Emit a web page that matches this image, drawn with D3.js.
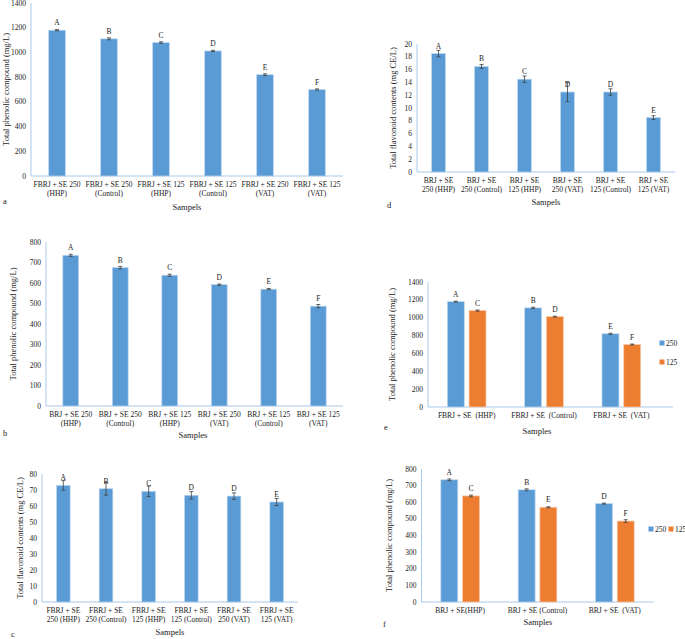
<!DOCTYPE html>
<html>
<head>
<meta charset="utf-8">
<script src="https://cdn.jsdelivr.net/npm/d3@7"></script>
<style>
  body { margin: 0; background: #fff; }
  text { font-family: "Liberation Serif", "Times New Roman", serif; fill: #222; }
</style>
</head>
<body>
<div id="d3-container"></div>
<script>
// data
const catsA = [["FBRJ + SE 250", "(HHP)"], ["FBRJ + SE 250", "(Control)"], ["FBRJ + SE 125", "(HHP)"],
               ["FBRJ + SE 125", "(Control)"], ["FBRJ + SE 250", "(VAT)"], ["FBRJ + SE 125", "(VAT)"]];
const valsA = [1180, 1110, 1080, 1012, 820, 700];
const errA = [5, 8, 6, 5, 7, 5];
const letA = ["A", "B", "C", "D", "E", "F"];

const catsB = [["BRJ + SE 250", "(HHP)"], ["BRJ + SE 250", "(Control)"], ["BRJ + SE 125", "(HHP)"],
               ["BRJ + SE 250", "(VAT)"], ["BRJ + SE 125", "(Control)"], ["BRJ + SE 125", "(VAT)"]];
const valsB = [735, 675, 638, 592, 570, 487];
const errB = [5, 6, 5, 3, 3, 8];
const letB = ["A", "B", "C", "D", "E", "F"];

const catsC = [["FBRJ + SE", "250 (HHP)"], ["FBRJ + SE", "250 (Control)"], ["FBRJ + SE", "125 (HHP)"],
               ["FBRJ + SE", "125 (Control)"], ["FBRJ + SE", "250 (VAT)"], ["FBRJ + SE", "125 (VAT)"]];
const valsC = [72.9, 70.8, 69.2, 66.7, 66.2, 62.5];
const errC = [3, 4, 3.3, 2.3, 2, 2.2];
const letC = ["A", "B", "C", "D", "D", "E"];

const catsD = [["BRJ + SE", "250 (HHP)"], ["BRJ + SE", "250 (Control)"], ["BRJ + SE", "125 (HHP)"],
               ["BRJ + SE", "250 (VAT)"], ["BRJ + SE", "125 (Control)"], ["BRJ + SE", "125 (VAT)"]];
const valsD = [18.5, 16.5, 14.5, 12.5, 12.5, 8.5];
const errD = [0.5, 0.3, 0.5, 1.5, 0.5, 0.3];
const letD = ["A", "B", "C", "D", "D", "E"];

const groupsE = ["FBRJ + SE  (HHP)", "FBRJ + SE  (Control)", "FBRJ + SE  (VAT)"];
const e250 = [1180, 1110, 820];
const e125 = [1080, 1012, 700];
const eErr250 = [5, 8, 7];
const eErr125 = [6, 5, 5];
const eLet250 = ["A", "B", "E"];
const eLet125 = ["C", "D", "F"];

const groupsF = ["BRJ + SE(HHP)", "BRJ + SE (Control)", "BRJ + SE  (VAT)"];
const f250 = [735, 675, 592];
const f125 = [638, 570, 487];
const fErr250 = [5, 6, 3];
const fErr125 = [5, 3, 8];
const fLet250 = ["A", "B", "D"];
const fLet125 = ["C", "E", "F"];

const series = ["250", "125"];

const blue = "#5b9bd5", orange = "#ed7d31";
const axisCol = "#a9c9ea", errCol = "#404040";

let svg = d3.select('#d3-container')
  .append('svg')
  .attr('width', 685)
  .attr('height', 639)
  .style('background-color', 'white');

// shared bits: y axis, x axis line, titles
function frame(p, y) {
  const g = svg.append("g");
  const ticks = d3.range(0, p.max + p.step / 2, p.step);
  g.selectAll(".tk").data(ticks).join("text")
    .attr("x", p.x0 - 5)
    .attr("y", d => y(d) + 2.5)
    .attr("text-anchor", "end")
    .style("font-size", "7.5px")
    .text(d => d);
  g.append("line")
    .attr("x1", p.x0).attr("x2", p.x0)
    .attr("y1", y(p.max)).attr("y2", y(0))
    .attr("stroke", axisCol);
  g.append("line")
    .attr("x1", p.x0).attr("x2", p.axisEnd)
    .attr("y1", y(0)).attr("y2", y(0))
    .attr("stroke", axisCol);
  g.append("text")
    .attr("transform", `translate(${p.titleX},${(y(0) + y(p.max)) / 2}) rotate(-90)`)
    .attr("text-anchor", "middle")
    .attr("dy", "0.33em")
    .style("font-size", "8.5px")
    .text(p.ytitle);
  g.append("text")
    .attr("x", p.xt[0]).attr("y", p.xt[1])
    .attr("text-anchor", "middle")
    .style("font-size", "8.5px")
    .text(p.xtitle);
  g.append("text")
    .attr("x", p.tag[0]).attr("y", p.tag[1])
    .style("font-size", "8.5px")
    .text(p.tagText);
  return g;
}

function errorBars(g, xs, vals, errs, y) {
  vals.forEach((v, i) => {
    const cx = xs[i];
    g.append("line").attr("x1", cx).attr("x2", cx)
      .attr("y1", y(v - errs[i])).attr("y2", y(v + errs[i]))
      .attr("stroke", errCol).attr("stroke-width", 0.8);
    [v - errs[i], v + errs[i]].forEach(e => {
      g.append("line").attr("x1", cx - 2).attr("x2", cx + 2)
        .attr("y1", y(e)).attr("y2", y(e))
        .attr("stroke", errCol).attr("stroke-width", 0.8);
    });
  });
}

function drawSingle(p) {
  const y = d3.scaleLinear().domain([0, p.max]).range([p.y0, p.yTop]);
  const x = d3.scaleBand().domain(d3.range(p.vals.length))
    .range([p.x0, p.x1]).paddingInner(0.68).paddingOuter(0.34);
  const g = frame(p, y);
  g.selectAll(".bar").data(p.vals).join("rect")
    .attr("x", (d, i) => x(i))
    .attr("y", d => y(d))
    .attr("width", x.bandwidth())
    .attr("height", d => y(0) - y(d))
    .attr("fill", blue)
    .attr("stroke", "#bdd7ee").attr("stroke-width", 0.7);
  const cx = p.vals.map((d, i) => x(i) + x.bandwidth() / 2);
  errorBars(g, cx, p.vals, p.errs, y);
  g.selectAll(".let").data(p.lets).join("text")
    .attr("x", (d, i) => cx[i])
    .attr("y", (d, i) => y(p.vals[i]) - 5)
    .attr("text-anchor", "middle")
    .style("font-size", "7.5px")
    .text(d => d);
  p.cats.forEach((c, i) => {
    c.forEach((line, j) => {
      g.append("text")
        .attr("x", cx[i])
        .attr("y", p.y0 + 11 + j * 9)
        .attr("text-anchor", "middle")
        .style("font-size", "7.5px")
        .text(line);
    });
  });
}

function drawGrouped(p) {
  const y = d3.scaleLinear().domain([0, p.max]).range([p.y0, p.yTop]);
  const x0 = d3.scaleBand().domain(p.groups).range([p.x0, p.x1])
    .paddingInner(0.5).paddingOuter(0.25);
  const x1 = d3.scaleBand().domain(series).range([0, x0.bandwidth()]).paddingInner(0.22);
  const g = frame(p, y);
  const sets = [[p.v250, p.e250, p.l250, blue, "#bdd7ee"], [p.v125, p.e125, p.l125, orange, "#f8cbad"]];
  sets.forEach((s, k) => {
    const cx = p.groups.map(gr => x0(gr) + x1(series[k]) + x1.bandwidth() / 2);
    g.selectAll(".b" + k).data(s[0]).join("rect")
      .attr("x", (d, i) => x0(p.groups[i]) + x1(series[k]))
      .attr("y", d => y(d))
      .attr("width", x1.bandwidth())
      .attr("height", d => y(0) - y(d))
      .attr("fill", s[3])
      .attr("stroke", s[4]).attr("stroke-width", 0.7);
    errorBars(g, cx, s[0], s[1], y);
    g.selectAll(".l" + k).data(s[2]).join("text")
      .attr("x", (d, i) => cx[i])
      .attr("y", (d, i) => y(s[0][i]) - 5)
      .attr("text-anchor", "middle")
      .style("font-size", "7.5px")
      .text(d => d);
  });
  g.selectAll(".cat").data(p.groups).join("text")
    .attr("x", d => x0(d) + x0.bandwidth() / 2)
    .attr("y", p.y0 + 11)
    .attr("text-anchor", "middle")
    .style("font-size", "7.5px")
    .style("white-space", "pre")
    .text(d => d);
  // legend
  series.forEach((s, k) => {
    const lx = p.legend[k][0], ly = p.legend[k][1];
    g.append("rect").attr("x", lx - 2.5).attr("y", ly - 2.5).attr("width", 5).attr("height", 5)
      .attr("fill", k === 0 ? blue : orange);
    g.append("text").attr("x", lx + 4).attr("y", ly + 2.7)
      .style("font-size", "7.5px").text(s);
  });
}

drawSingle({ cats: catsA, vals: valsA, errs: errA, lets: letA, max: 1400, step: 200,
  x0: 31, x1: 343, axisEnd: 343, yTop: 3, y0: 176, titleX: 6,
  ytitle: "Total phenolic compound (mg/L)", xtitle: "Sampels", xt: [187, 210], tag: [3, 204], tagText: "a" });

drawSingle({ cats: catsD, vals: valsD, errs: errD, lets: letD, max: 20, step: 2,
  x0: 417, x1: 675, axisEnd: 675, yTop: 44, y0: 172, titleX: 393,
  ytitle: "Total flavonoid contents (mg CE/L)", xtitle: "Sampels", xt: [546, 204.5], tag: [387, 208], tagText: "d" });

drawSingle({ cats: catsB, vals: valsB, errs: errB, lets: letB, max: 800, step: 100,
  x0: 46, x1: 343, axisEnd: 343, yTop: 242, y0: 406, titleX: 13,
  ytitle: "Total phenolic compound (mg/L)", xtitle: "Samples", xt: [193, 438], tag: [3, 435.5], tagText: "b" });

drawSingle({ cats: catsC, vals: valsC, errs: errC, lets: letC, max: 80, step: 10,
  x0: 42, x1: 298, axisEnd: 298, yTop: 474, y0: 602, titleX: 20,
  ytitle: "Total flavonoid contents (mg CE/L)", xtitle: "Sampels", xt: [170, 635], tag: [11, 637], tagText: "c" });

drawGrouped({ groups: groupsE, v250: e250, v125: e125, e250: eErr250, e125: eErr125, l250: eLet250, l125: eLet125,
  max: 1400, step: 200, x0: 428, x1: 660, axisEnd: 673, yTop: 282, y0: 407, titleX: 392,
  ytitle: "Total phenolic compound (mg/L)", xtitle: "Samples", xt: [537, 433.5], tag: [384, 430], tagText: "e",
  legend: [[662, 343], [662, 362]] });

drawGrouped({ groups: groupsF, v250: f250, v125: f125, e250: fErr250, e125: fErr125, l250: fLet250, l125: fLet125,
  max: 800, step: 100, x0: 421.5, x1: 653.5, axisEnd: 653.5, yTop: 469, y0: 602, titleX: 389,
  ytitle: "Total phenolic compound (mg/L)", xtitle: "Samples", xt: [538, 625], tag: [383, 627], tagText: "f",
  legend: [[651, 529], [671, 529]] });
</script>
</body>
</html>
